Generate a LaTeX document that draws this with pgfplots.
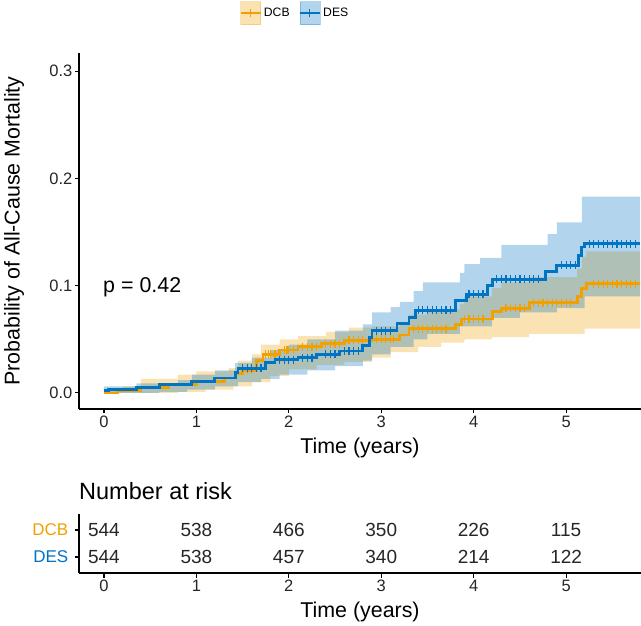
\documentclass[border=0pt]{standalone}
\usepackage{fontspec}
\setmainfont{Liberation Sans}
\usepackage{pgfplots}
\pgfplotsset{compat=1.18}
\usepgfplotslibrary{fillbetween}
\definecolor{dcb}{HTML}{F2A000}
\definecolor{des}{HTML}{0073C2}
\newcommand{\fs}[1]{\fontsize{#1}{#1}\selectfont}

\begin{document}
\fs{16.5bp}%
\begin{tikzpicture}[font=\fs{16.5bp}]
\pgfplotsset{every tick label/.append style={font=\fs{16.5bp}}}
\begin{axis}[
  at={(79bp,217bp)}, anchor=south west, scale only axis,
  width=562bp, height=356bp,
  xmin=-0.27, xmax=5.81, ymin=-0.015, ymax=0.317,
  axis lines=left, axis line style={-, line width=1.1bp, black},
  tick align=outside, major tick length=4.5bp,
  tick style={line width=1.1bp, black},
  xtick={0,1,2,3,4,5}, ytick={0,0.1,0.2,0.3},
  xticklabels={0,1,2,3,4,5},
  yticklabels={0.0,0.1,0.2,0.3},
  /pgf/number format/assume math mode=true,
  yticklabel style={inner sep=2bp, font=\fs{16.5bp}, text=black!85},
  xticklabel style={inner sep=2bp, font=\fs{16.5bp}, text=black!85},
  xlabel={Time (years)}, ylabel={Probability of All-Cause Mortality},
  label style={font=\fs{21.4bp}},
  xlabel style={at={(axis description cs:0.5,-0.11)}, anchor=center},
  ylabel style={at={(axis description cs:-0.1157,0.5)}, anchor=center},
  legend columns=2,
  legend style={at={(axis description cs:0.384,1.112)}, anchor=center,
    draw=none, fill=none, font=\fs{12.2bp}, inner sep=0pt,
    /tikz/every even column/.append style={column sep=7bp}},
  legend cell align=left,
]
\addlegendimage{legend image code/.code={
  \fill[dcb, opacity=0.3] (0bp,-11.5bp) rectangle (20bp,11.5bp);
  \draw[dcb, line width=2.6bp] (0bp,0bp) -- (20bp,0bp);
  \draw[dcb, line width=1bp] (10bp,-4bp) -- (10bp,4bp);}}
\addlegendentry{DCB}
\addlegendimage{legend image code/.code={
  \fill[des, opacity=0.3] (0bp,-11.5bp) rectangle (20bp,11.5bp);
  \draw[des, line width=2.6bp] (0bp,0bp) -- (20bp,0bp);
  \draw[des, line width=1bp] (10bp,-4bp) -- (10bp,4bp);}}
\addlegendentry{DES}

% DCB confidence band
\addplot[name path=dcbU, draw=none, const plot, forget plot] coordinates {
(0,0.002) (0.2,0.006) (0.4,0.013) (0.8,0.017) (1.0,0.020) (1.35,0.023)
(1.45,0.030) (1.6,0.036) (1.7,0.045) (1.9,0.050) (2.1,0.053) (2.4,0.057)
(2.65,0.061) (2.9,0.062) (3.2,0.066) (3.3,0.073) (3.5,0.078) (3.85,0.083)
(3.9,0.090) (4.2,0.098) (4.3,0.103) (4.6,0.108) (5.12,0.116) (5.17,0.127)
(5.22,0.132) (5.8,0.132)};
\addplot[name path=dcbL, draw=none, const plot, forget plot] coordinates {
(0,0.000) (0.8,0.001) (1.1,0.003) (1.4,0.006) (1.6,0.010) (1.8,0.016)
(2.0,0.022) (2.3,0.026) (2.6,0.029) (2.9,0.033) (3.1,0.038) (3.4,0.043)
(3.65,0.047) (3.9,0.050) (4.2,0.052) (4.6,0.055) (5.2,0.060) (5.8,0.060)};
\addplot[fill=dcb, fill opacity=0.3, draw=none, forget plot] fill between[of=dcbU and dcbL];

% DES confidence band
\addplot[name path=desU, draw=none, const plot, forget plot] coordinates {
(0,0.006) (0.35,0.009) (0.8,0.012) (0.95,0.017) (1.2,0.021) (1.42,0.028)
(1.6,0.033) (1.8,0.040) (2.0,0.045) (2.2,0.050) (2.5,0.058) (2.8,0.064)
(2.9,0.075) (3.1,0.080) (3.2,0.085) (3.35,0.095) (3.45,0.103) (3.85,0.112)
(3.9,0.120) (4.07,0.126) (4.3,0.138) (4.8,0.148) (4.9,0.159) (5.17,0.183)
(5.8,0.183)};
\addplot[name path=desL, draw=none, const plot, forget plot] coordinates {
(0,0.000) (0.6,0.001) (0.9,0.003) (1.2,0.006) (1.45,0.010) (1.7,0.013)
(1.9,0.017) (2.2,0.021) (2.5,0.025) (2.8,0.030) (2.9,0.036) (3.1,0.043)
(3.35,0.050) (3.5,0.055) (3.85,0.062) (4.2,0.070) (4.5,0.075) (4.9,0.079)
(5.2,0.090) (5.8,0.092)};
\addplot[fill=des, fill opacity=0.3, draw=none, forget plot] fill between[of=desU and desL];

% DCB curve
\addplot[dcb, line width=2.8bp, const plot, forget plot] coordinates {
(0,0.000) (0.15,0.002) (0.4,0.005) (0.7,0.008) (1.0,0.011) (1.3,0.014)
(1.42,0.018) (1.5,0.021) (1.65,0.030) (1.72,0.036) (1.9,0.040) (2.1,0.043)
(2.35,0.046) (2.6,0.049) (2.9,0.050) (3.2,0.054) (3.3,0.060) (3.8,0.064)
(3.87,0.069) (4.2,0.076) (4.3,0.079) (4.6,0.084) (5.12,0.090) (5.17,0.097)
(5.22,0.102) (5.8,0.102)};
\addplot[dcb, only marks, mark=|, mark size=4bp, mark options={line width=1.2bp}, forget plot] coordinates {
(1.55,0.021) (1.6,0.021) (1.75,0.036) (1.78,0.036) (1.8,0.036) (1.85,0.036)
(1.95,0.040) (1.98,0.040) (2.0,0.040) (2.05,0.040) (2.15,0.043) (2.2,0.043) (2.25,0.043) (2.3,0.043)
(2.4,0.046) (2.45,0.046) (2.5,0.046) (2.55,0.046) (2.65,0.049) (2.7,0.049) (2.75,0.049) (2.8,0.049)
(2.95,0.050) (3.0,0.050) (3.05,0.050) (3.1,0.050) (3.13,0.050)
(3.35,0.060) (3.4,0.060) (3.45,0.060) (3.5,0.060) (3.55,0.060) (3.6,0.060) (3.65,0.060) (3.7,0.060)
(3.9,0.069) (3.95,0.069) (4.0,0.069) (4.05,0.069) (4.1,0.069)
(4.35,0.079) (4.4,0.079) (4.45,0.079) (4.5,0.079) (4.55,0.079)
(4.65,0.084) (4.7,0.084) (4.75,0.084) (4.8,0.084) (4.85,0.084) (4.9,0.084) (4.95,0.084) (5.0,0.084) (5.05,0.084)
(5.3,0.102) (5.35,0.102) (5.4,0.102) (5.45,0.102) (5.5,0.102) (5.55,0.102) (5.6,0.102) (5.65,0.102) (5.7,0.102) (5.75,0.102)};

% DES curve
\addplot[des, line width=2.8bp, const plot, forget plot] coordinates {
(0,0.002) (0.05,0.003) (0.35,0.005) (0.6,0.008) (0.95,0.011) (1.2,0.014)
(1.42,0.019) (1.45,0.023) (1.75,0.028) (1.85,0.031) (2.1,0.033) (2.3,0.036)
(2.55,0.039) (2.8,0.044) (2.87,0.052) (2.9,0.058) (3.17,0.065) (3.3,0.070)
(3.37,0.077) (3.8,0.086) (3.92,0.092) (4.15,0.100) (4.2,0.106) (4.78,0.113)
(4.9,0.119) (5.13,0.128) (5.17,0.136) (5.2,0.139) (5.8,0.139)};
\addplot[des, only marks, mark=|, mark size=4bp, mark options={line width=1.2bp}, forget plot] coordinates {
(1.5,0.023) (1.55,0.023) (1.6,0.023) (1.65,0.023) (1.7,0.023)
(1.9,0.031) (1.95,0.031) (2.0,0.031) (2.05,0.031)
(2.15,0.033) (2.2,0.033) (2.25,0.033) (2.4,0.036) (2.45,0.036) (2.5,0.036)
(2.6,0.039) (2.65,0.039) (2.7,0.039) (2.75,0.039)
(2.95,0.058) (3.0,0.058) (3.05,0.058) (3.1,0.058)
(3.4,0.077) (3.45,0.077) (3.5,0.077) (3.55,0.077) (3.6,0.077) (3.65,0.077) (3.7,0.077) (3.75,0.077)
(3.95,0.092) (4.0,0.092) (4.05,0.092) (4.1,0.092)
(4.25,0.106) (4.3,0.106) (4.35,0.106) (4.4,0.106) (4.45,0.106) (4.5,0.106) (4.55,0.106) (4.6,0.106) (4.65,0.106) (4.7,0.106)
(4.95,0.119) (5.0,0.119) (5.05,0.119) (5.1,0.119)
(5.25,0.139) (5.3,0.139) (5.35,0.139) (5.4,0.139) (5.45,0.139) (5.5,0.139) (5.55,0.139) (5.6,0.139) (5.65,0.139) (5.7,0.139) (5.75,0.139)};

\node[anchor=west, font=\fs{21.4bp}, inner sep=0pt] at (axis cs:-0.01,0.099) {p = 0.42};
\end{axis}

\begin{axis}[
  at={(79bp,53bp)}, anchor=south west, scale only axis,
  width=562bp, height=59bp, clip=false,
  xmin=-0.27, xmax=5.81, ymin=0.41, ymax=2.59,
  axis lines=left, axis line style={-, line width=1.1bp, black},
  tick align=outside, major tick length=4.5bp,
  tick style={line width=1.1bp, black},
  xtick={0,1,2,3,4,5}, ytick={1,2},
  xticklabels={0,1,2,3,4,5},
  yticklabels={\textcolor{des}{DES},\textcolor{dcb}{DCB}},
  /pgf/number format/assume math mode=true,
  xticklabel style={inner sep=2bp, font=\fs{16.5bp}, text=black!85},
  yticklabel style={inner sep=2bp, xshift=-4bp, font=\fs{17bp}},
  xlabel={Time (years)},
  label style={font=\fs{21.4bp}},
  xlabel style={at={(axis description cs:0.5,-0.661)}, anchor=center},
]
\addplot[draw=none, mark=none, nodes near coords, point meta=explicit symbolic,
  nodes near coords style={anchor=center, font=\fs{19bp}, inner sep=0pt, text=black!85}]
  table[meta=n] {
t r n
0 2 544
1 2 538
2 2 466
3 2 350
4 2 226
5 2 115
0 1 544
1 1 538
2 1 457
3 1 340
4 1 214
5 1 122
};
\node[anchor=base west, font=\fs{23.5bp}, inner sep=0pt] at (rel axis cs:0,1) [yshift=15bp] {Number at risk};
\end{axis}
\pgfresetboundingbox
\path[use as bounding box] (0,0) rectangle (641bp,626bp);
\end{tikzpicture}
\end{document}
